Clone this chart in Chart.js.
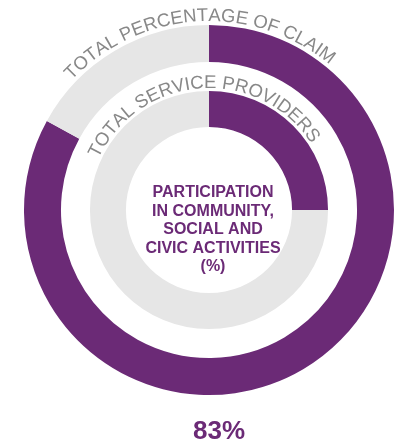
<!DOCTYPE html>
<html>
<head>
<meta charset="utf-8">
<script src="https://cdn.jsdelivr.net/npm/chart.js@4"></script>
<style>
  html, body { margin: 0; padding: 0; background: #fff; }
  #wrap { width: 394px; height: 444px; position: relative; }
</style>
</head>
<body>
<div id="wrap"><canvas id="myChart" width="394" height="444"></canvas></div>
<script>
// ring values (percent)
const claimValues = [83, 17];
const providerValues = [25, 75];
const ringLabels = ['Participation', 'Other'];
const outerTitle = 'TOTAL PERCENTAGE OF CLAIM';
const innerTitle = 'TOTAL SERVICE PROVIDERS';
const centerLines = ['PARTICIPATION', 'IN COMMUNITY,', 'SOCIAL AND', 'CIVIC ACTIVITIES', '(%)'];

const PURPLE = '#6b2a76';
const LIGHT = '#e6e6e6';
const TEXT_GREY = '#888888';

// write a string along a circle, centred on angle mid (radians, 0 = top)
function arcText(ctx, str, cx, cy, r, mid) {
  ctx.save();
  let total = 0;
  const widths = [];
  for (const ch of str) { const w = ctx.measureText(ch).width; widths.push(w); total += w; }
  let a = mid - total / r / 2;
  let i = 0;
  for (const ch of str) {
    const w = widths[i++];
    const ang = a + w / r / 2;
    ctx.save();
    ctx.translate(cx + r * Math.sin(ang), cy - r * Math.cos(ang));
    ctx.rotate(ang);
    ctx.fillText(ch, 0, 0);
    ctx.restore();
    a += w / r;
  }
  ctx.restore();
}

const labelsPlugin = {
  id: 'ringLabels',
  afterDraw(chart) {
    const ctx = chart.ctx;
    const outer = chart.getDatasetMeta(0).data[0];
    const inner = chart.getDatasetMeta(2).data[0];
    const cx = outer.x, cy = outer.y;

    ctx.save();
    ctx.fillStyle = TEXT_GREY;
    ctx.textAlign = 'center';
    ctx.textBaseline = 'alphabetic';
    ctx.font = '18.5px "Liberation Sans", Arial, sans-serif';
    arcText(ctx, outerTitle, cx, cy, outer.outerRadius + 4, -3.5 * Math.PI / 180);
    arcText(ctx, innerTitle, cx, cy, inner.outerRadius + 3, -4 * Math.PI / 180);

    ctx.fillStyle = PURPLE;
    ctx.font = 'bold 16px "Liberation Sans", Arial, sans-serif';
    ctx.textBaseline = 'middle';
    centerLines.forEach((line, k) => {
      ctx.fillText(line, cx + 4, cy - 17 + k * 18.5);
    });

    ctx.font = 'bold 26px "Liberation Sans", Arial, sans-serif';
    ctx.textBaseline = 'alphabetic';
    ctx.fillText(claimValues[0] + '%', cx + 10, 439);
    ctx.restore();
  }
};

const ctx = document.getElementById('myChart').getContext('2d');
new Chart(ctx, {
  type: 'doughnut',
  data: {
    labels: ringLabels,
    datasets: [
      { data: claimValues, backgroundColor: [PURPLE, LIGHT], borderWidth: 0, weight: 37 },
      { data: [1], backgroundColor: ['rgba(0,0,0,0)'], borderWidth: 0, weight: 29 },
      { data: providerValues, backgroundColor: [PURPLE, LIGHT], borderWidth: 0, weight: 36 }
    ]
  },
  options: {
    responsive: false,
    animation: false,
    cutout: '44.9%',
    layout: { padding: { left: 24, right: 0, top: 25, bottom: 49 } },
    plugins: { legend: { display: false }, tooltip: { enabled: false } },
    events: []
  },
  plugins: [labelsPlugin]
});
</script>
</body>
</html>
